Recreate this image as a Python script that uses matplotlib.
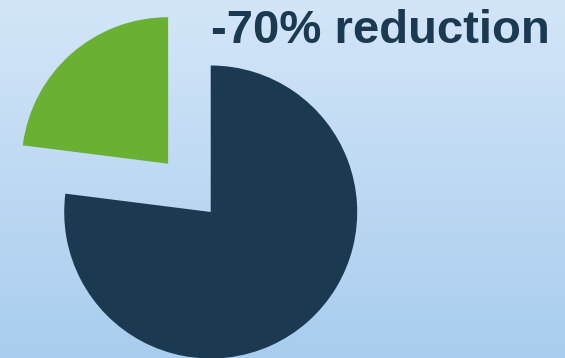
import numpy as np
import matplotlib
matplotlib.use("Agg")
import matplotlib.pyplot as plt

# share of the pie: what is left vs. what was removed
labels = ["remaining", "reduced"]
shares = [77, 23]
colors = ["#1b3a52", "#6ab033"]
title = "-70% reduction"

W, H = 565, 358
fig = plt.figure(figsize=(W / 100, H / 100), dpi=100)
ax = fig.add_axes([0, 0, 1, 1])

# light blue vertical gradient for the backdrop
top = np.array([0xd3, 0xe6, 0xf8]) / 255
bottom = np.array([0xa9, 0xcd, 0xee]) / 255
t = np.linspace(0, 1, 256)[:, None]
grad = top * (1 - t) + bottom * t
ax.imshow(grad[:, None, :].repeat(2, axis=1), extent=[0, W, 0, H],
          aspect="auto", zorder=0)

radius = 146.5
ax.pie(shares, colors=colors, startangle=90, counterclock=False,
       center=(210.7, H - 212), radius=radius, explode=[0, 64.4],
       wedgeprops=dict(linewidth=0))

ax.text(211, H - 43, title, fontsize=34, fontweight="bold",
        family="Liberation Sans", color="#1b3a52", va="baseline", ha="left")

ax.set_xlim(0, W)
ax.set_ylim(0, H)
ax.set_aspect("auto")
ax.axis("off")

fig.savefig("out.png", dpi=100)
